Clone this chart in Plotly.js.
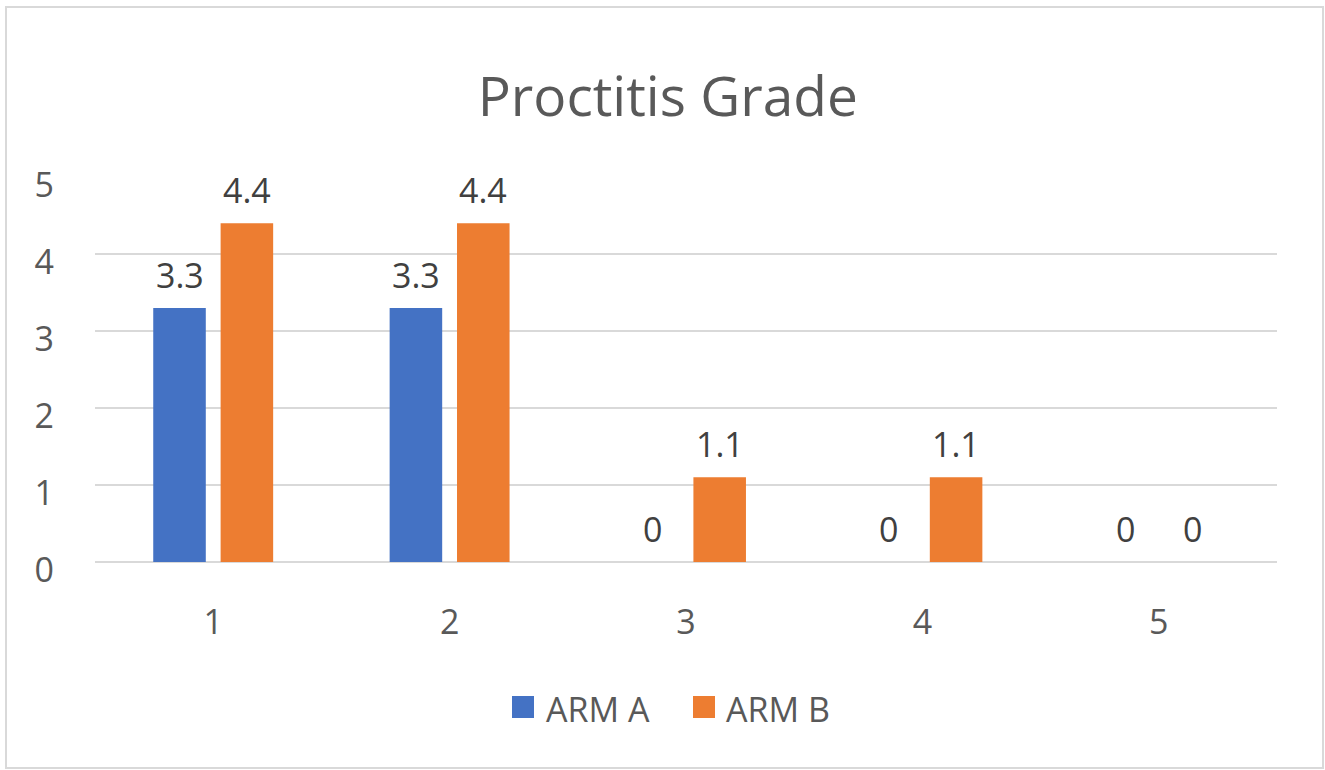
<!DOCTYPE html>
<html>
<head>
<meta charset="utf-8">
<script src="https://cdn.plot.ly/plotly-3.0.1.min.js"></script>
<style>
html,body{margin:0;padding:0;background:#fff;}
#wrap{position:relative;width:1325px;height:770px;}
#chart{width:1325px;height:770px;}
#frame{position:absolute;left:5px;top:6px;width:1319px;height:763px;border:2px solid #d9d9d9;box-sizing:border-box;pointer-events:none;}
</style>
</head>
<body>
<div id="wrap"><div id="chart"></div><div id="frame"></div></div>
<script>
const categories = ['1', '2', '3', '4', '5'];
const seriesNames = ['ARM A', 'ARM B'];
const armA = [3.3, 3.3, 0, 0, 0];
const armB = [4.4, 4.4, 1.1, 1.1, 0];
const yTicks = [0, 1, 2, 3, 4, 5];
const colors = ['#4472C4', '#ED7D31'];
const series = [armA, armB];

const fontFam = '"Open Sans", "Noto Sans", sans-serif';
const fs = 34;
const plotL = 95, plotR = 48, plotT = 177, plotB = 208;
const W = 1325, H = 770;
const pw = W - plotL - plotR, ph = H - plotT - plotB;
const bargap = 0.43, bargroupgap = 0.22;
const catW = pw / categories.length;
const slot = catW * (1 - bargap) / 2;

const traces = series.map((vals, i) => ({
  type: 'bar',
  x: categories,
  y: vals,
  name: seriesNames[i],
  marker: {color: colors[i]},
  showlegend: false,
  hoverinfo: 'x+y+name'
}));

const annotations = [];
series.forEach((vals, i) => {
  vals.forEach((v, j) => {
    annotations.push({
      x: j, y: v, xref: 'x', yref: 'y',
      text: String(v), showarrow: false,
      xshift: (i === 0 ? -1 : 1) * slot / 2,
      yshift: 33, yanchor: 'middle',
      font: {family: fontFam, size: fs, color: '#404040'}
    });
  });
});

// custom legend (large swatches)
const shapes = [];
const legendY = 707; // px
const legendItems = [{sx: 512, tx: 544}, {sx: 693, tx: 724}];
const toPX = px => (px - plotL) / pw;
const toPY = py => (H - plotB - py) / ph;
seriesNames.forEach((nm, i) => {
  const it = legendItems[i];
  shapes.push({
    type: 'rect', xref: 'paper', yref: 'paper',
    x0: toPX(it.sx), x1: toPX(it.sx + 22),
    y0: toPY(legendY - 11), y1: toPY(legendY + 11),
    fillcolor: colors[i], line: {width: 0}
  });
  annotations.push({
    xref: 'paper', yref: 'paper', x: toPX(it.tx), y: toPY(legendY + 2),
    xanchor: 'left', yanchor: 'middle', showarrow: false,
    text: nm, font: {family: fontFam, size: fs, color: '#595959'}
  });
});

const layout = {
  width: W, height: H,
  margin: {l: plotL, r: plotR, t: plotT, b: plotB},
  paper_bgcolor: '#fff', plot_bgcolor: '#fff',
  title: {
    text: 'Proctitis Grade',
    font: {family: fontFam, size: 55, color: '#595959'},
    x: 0.504, xanchor: 'center', y: 1 - 97 / H, yanchor: 'middle', yref: 'container'
  },
  barmode: 'group', bargap: bargap, bargroupgap: bargroupgap,
  showlegend: false,
  xaxis: {
    type: 'category', range: [-0.5, categories.length - 0.5],
    showgrid: false, zeroline: false, showline: false,
    ticks: '', ticklabelstandoff: 37,
    tickfont: {family: fontFam, size: fs, color: '#595959'}
  },
  yaxis: {
    range: [0, 5], tickvals: yTicks, ticktext: yTicks.map(String),
    showgrid: true, gridcolor: '#d9d9d9', gridwidth: 2,
    zeroline: true, zerolinecolor: '#d9d9d9', zerolinewidth: 2,
    showline: false, ticks: '', ticklabelstandoff: 40, ticklabelshift: 8,
    tickfont: {family: fontFam, size: fs, color: '#595959'}
  },
  annotations: annotations,
  shapes: shapes
};

Plotly.newPlot('chart', traces, layout, {displayModeBar: false});
</script>
</body>
</html>
